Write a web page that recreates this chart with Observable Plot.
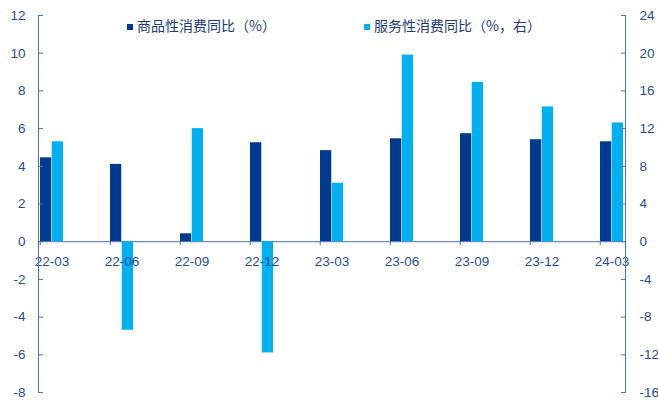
<!DOCTYPE html>
<html><head><meta charset="utf-8">
<script src="https://cdn.jsdelivr.net/npm/d3@7"></script>
<script src="https://cdn.jsdelivr.net/npm/@observablehq/plot@0.6"></script>
<style>
body{margin:0;background:#fff;}
#wrap{position:relative;width:658px;height:400px;}
.leg{position:absolute;top:15px;font-family:"Noto Sans CJK SC";font-size:14px;color:#1a3a78;white-space:nowrap;line-height:20px;}
.sw{display:inline-block;width:6px;height:6px;margin-right:4px;vertical-align:1px;}
</style></head><body><div id="wrap"></div>
<script>
const categories = ["22-03","22-06","22-09","22-12","23-03","23-06","23-09","23-12","24-03"];
const goods = [4.45, 4.1, 0.42, 5.25, 4.83, 5.46, 5.73, 5.41, 5.3];
const services = [10.6, -9.4, 12.0, -11.8, 6.2, 19.8, 16.9, 14.3, 12.6];
const leftTicks = [-8, -6, -4, -2, 0, 2, 4, 6, 8, 10, 12];
const rightTicks = [-16, -12, -8, -4, 0, 4, 8, 12, 16, 20, 24];
const seriesNames = ["商品性消费同比（%）", "服务性消费同比（%，右）"];

const dark = "#003a8f", light = "#00b0f0", axisColor = "#4a72c0", textColor = "#1f4e99";
const W = 658, H = 400, mL = 38, mR = 33, mT = 15, mB = 8;
const frameW = W - mL - mR;
const band = 70.5, barW = band / 6;
const data = categories.map((c, i) => ({cat: c, goods: goods[i], svc: services[i]}));

const chart = Plot.plot({
  width: W, height: H, marginLeft: mL, marginRight: mR, marginTop: mT, marginBottom: mB,
  x: {type: "band", domain: categories, range: [mL, mL + band * categories.length], padding: 0, axis: null},
  y: {domain: [-8, 12], axis: null},
  style: {fontFamily: "Liberation Sans", fontSize: "13.5px", background: "#fff"},
  marks: [
    Plot.ruleY([0], {stroke: axisColor}),
    Plot.barY(data, {x: "cat", y: "goods", fill: dark, insetLeft: 0, insetRight: band - barW}),
    Plot.barY(data, {x: "cat", y: d => d.svc / 2, fill: light, insetLeft: barW, insetRight: band - 2 * barW}),
    Plot.ruleX(categories, {x: d => d, y1: () => 0, y2: () => 0, dx: -band / 2, insetBottom: -4, stroke: axisColor}),
    Plot.text(categories, {x: d => d, y: () => 0, dx: -(band / 2 - barW), dy: 20, fill: textColor, fontSize: 13.5}),
    Plot.frame({anchor: "left", stroke: axisColor}),
    Plot.frame({anchor: "right", stroke: axisColor}),
    Plot.tickY(leftTicks, {y: d => d, insetRight: frameW - 5, stroke: axisColor}),
    Plot.tickY(leftTicks, {y: d => d, insetLeft: frameW - 4, stroke: axisColor}),
    Plot.axisY({anchor: "left", ticks: leftTicks, tickSize: 0, tickPadding: 13, label: null, fill: textColor, fontSize: 13.5, tickFormat: d => String(d)}),
    Plot.axisY({anchor: "right", ticks: leftTicks, tickSize: 0, tickPadding: 14, label: null, fill: textColor, fontSize: 13.5, tickFormat: d => String(rightTicks[leftTicks.indexOf(d)])})
  ]
});
const wrap = document.getElementById("wrap");
wrap.appendChild(chart);
const legItems = [{name: seriesNames[0], color: dark, left: 127}, {name: seriesNames[1], color: light, left: 364}];
for (const it of legItems) {
  const d = document.createElement("div");
  d.className = "leg";
  d.style.left = it.left + "px";
  d.innerHTML = `<span class="sw" style="background:${it.color}"></span>${it.name}`;
  wrap.appendChild(d);
}
</script></body></html>
